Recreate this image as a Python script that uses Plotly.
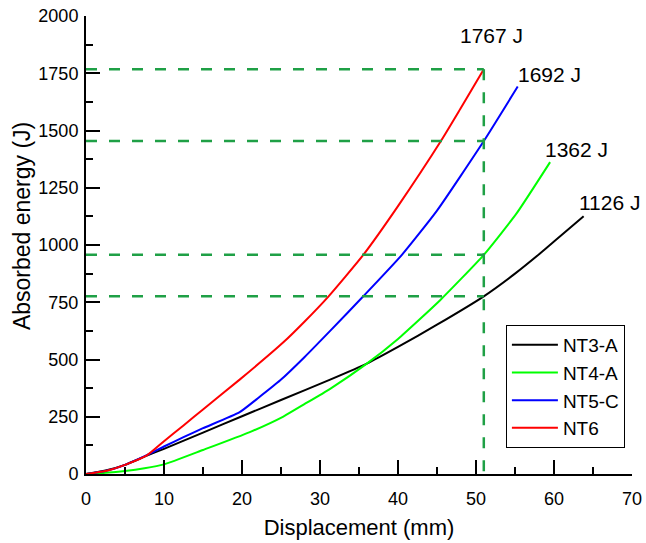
import plotly.graph_objects as go

# Absorbed energy vs. displacement for the four specimens
disp_nt3 = [0, 2.5, 5, 7.8, 10, 15, 20, 25, 31.3, 36, 40, 45, 51, 55, 58.2, 60, 63.8]
energy_nt3 = [0, 15, 40, 80, 110, 181, 252, 323, 412, 482, 555, 652, 776, 875, 963, 1015, 1126]

disp_nt4 = [0, 2.5, 5, 7.5, 10, 15, 21, 25.3, 28, 31.3, 36, 40, 45.4, 51, 55.2, 59.5]
energy_nt4 = [0, 5, 13, 25, 42, 105, 183, 251, 305, 372, 482, 590, 759, 957, 1138, 1362]

disp_nt5 = [0, 2.5, 5, 7.8, 10, 12.5, 15, 19.7, 22, 24.9, 28, 31.3, 35.55, 40.5, 45, 51, 55.35]
energy_nt5 = [0, 13, 40, 82, 120, 161, 200, 270, 330, 409, 510, 625, 776, 957, 1150, 1454, 1692]

disp_nt6 = [0, 2.5, 5, 7.8, 10, 12.5, 15, 19.7, 25.3, 28, 31.1, 35.55, 40, 45.5, 48, 51]
energy_nt6 = [0, 13, 40, 81, 143, 212, 282, 412, 575, 665, 776, 957, 1170, 1454, 1595, 1767]

names = ["NT3-A", "NT4-A", "NT5-C", "NT6"]
colors = ["#000000", "#00FF00", "#0000FF", "#FF0000"]
series = [(disp_nt3, energy_nt3), (disp_nt4, energy_nt4),
          (disp_nt5, energy_nt5), (disp_nt6, energy_nt6)]

# reference displacement where the energy levels are compared
ref_disp = 51
ref_color = "#1FA046"

# label placement offsets (px) for the end-of-curve energy labels
label_shift = [(-7, 14), (-7, 13), (-2, 12), (-26, 34)]

fig = go.Figure()

for (x, y), name, c in zip(series, names, colors):
    fig.add_trace(go.Scatter(
        x=x, y=y, mode="lines", name=name,
        line=dict(color=c, width=2, shape="spline", smoothing=0.5),
    ))

# dashed guide lines: energy of each specimen at the reference displacement
ref_levels = [y[x.index(ref_disp)] for x, y in series]
dash_style = dict(color=ref_color, width=2.5, dash="11px,12px")
for lvl in ref_levels:
    fig.add_trace(go.Scatter(
        x=[0, ref_disp], y=[lvl, lvl], mode="lines",
        line=dash_style, showlegend=False, hoverinfo="skip",
    ))
fig.add_trace(go.Scatter(
    x=[ref_disp, ref_disp], y=[max(ref_levels), 0], mode="lines",
    line=dash_style, showlegend=False, hoverinfo="skip",
))

# end-of-curve energy labels
for (x, y), (dx, dy) in zip(series, label_shift):
    fig.add_annotation(
        x=x[-1], y=y[-1], text=f"{y[-1]:.0f} J", showarrow=False,
        xanchor="left", yanchor="middle", xshift=dx, yshift=dy,
        font=dict(size=21, color="black"),
    )

# y-axis title
fig.add_annotation(
    xref="paper", yref="paper", x=-0.117, y=0.5415,
    text="Absorbed energy (J)", textangle=-90, showarrow=False,
    xanchor="center", yanchor="middle",
    font=dict(size=23, color="black"),
)

axis_common = dict(
    showline=True, linewidth=2, linecolor="black",
    ticks="inside", ticklen=14, tickwidth=2, tickcolor="black",
    showgrid=False, zeroline=False,
    tickfont=dict(size=18, color="black"),
)

fig.update_xaxes(
    range=[0, 70], dtick=10, tick0=0, ticklabelstandoff=7,
    minor=dict(dtick=5, ticks="inside", ticklen=7, tickwidth=2,
               tickcolor="black", showgrid=False),
    title=dict(text="Displacement (mm)", font=dict(size=22, color="black"), standoff=12),
    **axis_common,
)
fig.update_yaxes(
    range=[0, 2000], dtick=250, tick0=0, ticklabelstandoff=2,
    minor=dict(dtick=125, ticks="inside", ticklen=7, tickwidth=2,
               tickcolor="black", showgrid=False),
    **axis_common,
)

fig.update_layout(
    width=646, height=543,
    margin=dict(l=86, r=14, t=16, b=69, autoexpand=False),
    plot_bgcolor="white", paper_bgcolor="white",
    font=dict(family="Arial, Liberation Sans, sans-serif", color="black"),
    legend=dict(
        x=0.987, xanchor="right", y=0.057, yanchor="bottom",
        bordercolor="black", borderwidth=1, bgcolor="white",
        font=dict(size=19, color="black"), itemwidth=46,
    ),
)

fig.write_html("out.html")
